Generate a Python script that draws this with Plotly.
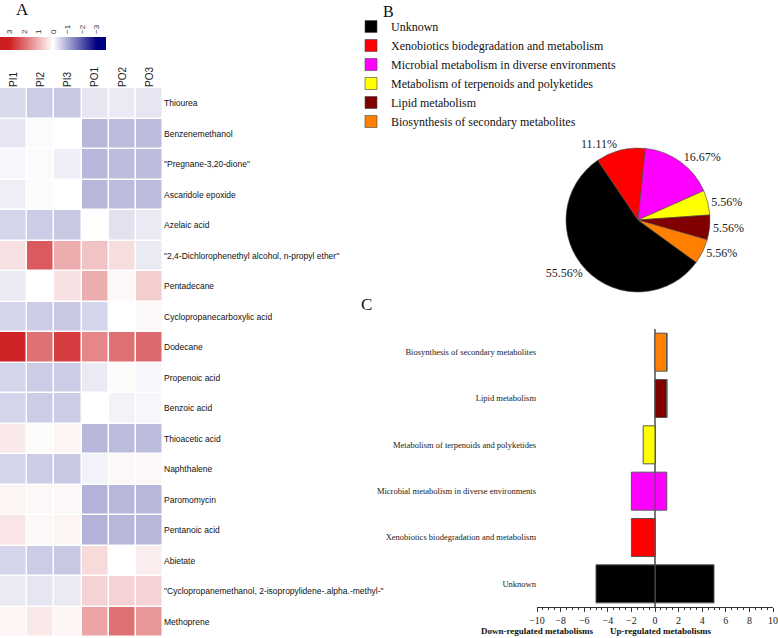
import plotly.graph_objects as go

W, H = 778, 638

# ---- panel A: heatmap data ----
samples = ["PI1", "PI2", "PI3", "PO1", "PO2", "PO3"]
compounds = [
    "Thiourea",
    "Benzenemethanol",
    '"Pregnane-3,20-dione"',
    "Ascaridole epoxide",
    "Azelaic acid",
    '"2,4-Dichlorophenethyl alcohol, n-propyl ether"',
    "Pentadecane",
    "Cyclopropanecarboxylic acid",
    "Dodecane",
    "Propenoic acid",
    "Benzoic acid",
    "Thioacetic acid",
    "Naphthalene",
    "Paromomycin",
    "Pentanoic acid",
    "Abietate",
    '"Cyclopropanemethanol, 2-isopropylidene-.alpha.-methyl-"',
    "Methoprene",
]
zscores = [
    [-0.45, -0.6, -0.65, -0.3, -0.25, -0.3],
    [-0.3, -0.05, 0.0, -0.85, -0.8, -0.8],
    [-0.1, -0.05, -0.2, -0.85, -0.8, -0.8],
    [-0.2, -0.05, 0.0, -0.85, -0.8, -0.8],
    [-0.5, -0.6, -0.65, 0.0, -0.35, -0.25],
    [0.4, 2.2, 1.1, 0.8, 0.45, -0.25],
    [-0.25, 0.0, 0.4, 1.1, 0.1, 0.65],
    [-0.5, -0.6, -0.65, -0.5, 0.0, 0.1],
    [2.95, 1.9, 2.6, 1.6, 1.9, 2.0],
    [-0.5, -0.6, -0.6, -0.25, 0.05, -0.1],
    [-0.5, -0.6, -0.6, 0.0, -0.15, -0.1],
    [0.3, 0.05, 0.15, -0.85, -0.8, -0.8],
    [-0.5, -0.6, -0.65, -0.15, 0.1, 0.1],
    [0.15, 0.1, 0.1, -0.9, -0.85, -0.85],
    [0.35, 0.1, 0.15, -0.9, -0.85, -0.85],
    [-0.5, -0.6, -0.65, 0.5, 0.0, 0.25],
    [-0.25, -0.3, -0.25, 0.6, 0.6, 0.6],
    [0.15, 0.3, 0.15, 1.2, 1.9, 1.4],
]
cbar_ticks = [3, 2, 1, 0, -1, -2, -3]
cbar_limit = 3.65

# ---- panel B: pie ----
pathways = [
    "Unknown",
    "Xenobiotics biodegradation and metabolism",
    "Microbial metabolism in diverse environments",
    "Metabolism of terpenoids and polyketides",
    "Lipid metabolism",
    "Biosynthesis of secondary metabolites",
]
pathway_counts = [10, 2, 3, 1, 1, 1]
pathway_colors = ["#000000", "#FF0000", "#FF00FF", "#FFFF00", "#800000", "#FF8000"]

# ---- panel C: up / down regulated ----
up_counts = [5, 0, 1, 0, 1, 1]
down_counts = [-5, -2, -2, -1, 0, 0]


def px_x(a, b):
    return [a / W, b / W]


def px_y(top, bottom):
    return [1 - bottom / H, 1 - top / H]


serif = "Liberation Serif, Times New Roman, serif"
sans = "Liberation Sans, Arial, sans-serif"

# colour ramp: red at +3, white at 0, navy at -3 (flat beyond +-3)
edge = (cbar_limit - 3) / (2 * cbar_limit)
ramp = [[0, "#CE1E22"], [edge, "#CE1E22"], [0.5, "#FFFFFF"],
        [1 - edge, "#000080"], [1, "#000080"]]

fig = go.Figure()

# heatmap, z negated so the horizontal colorbar runs 3 -> -3 left to right
fig.add_trace(go.Heatmap(
    z=[[-v for v in row] for row in zscores],
    x=samples,
    y=compounds,
    zmin=-cbar_limit, zmax=cbar_limit,
    colorscale=ramp,
    xgap=1.5, ygap=1.5,
    xaxis="x", yaxis="y",
    showscale=True,
    colorbar=dict(
        orientation="h",
        x=0, xanchor="left", y=1 - 50 / H, yanchor="bottom",
        len=106 / W, lenmode="fraction",
        thickness=13, outlinewidth=0, xpad=0, ypad=0,
        showticklabels=False, ticks="",
    ),
))

# invisible points that carry the colorbar's tick labels on their own axis
fig.add_trace(go.Scatter(
    x=cbar_ticks, y=[0.5] * len(cbar_ticks), mode="markers",
    marker=dict(size=1, opacity=0), hoverinfo="skip", showlegend=False,
    xaxis="x3", yaxis="y3",
))

# pie
fig.add_trace(go.Pie(
    labels=pathways,
    values=pathway_counts,
    marker=dict(colors=pathway_colors, line=dict(color="#444", width=0.6)),
    sort=False,
    direction="clockwise",
    rotation=126,
    texttemplate="%{percent:.2%}",
    textposition="outside",
    textfont=dict(family=serif, size=12, color="#222"),
    domain=dict(x=px_x(566, 710), y=px_y(148, 292)),
    showlegend=True,
))

# bars
fig.add_trace(go.Bar(
    y=pathways, x=up_counts, orientation="h",
    marker=dict(color=pathway_colors, line=dict(color="#555", width=1)),
    width=0.82, xaxis="x2", yaxis="y2", showlegend=False,
))
fig.add_trace(go.Bar(
    y=pathways, x=down_counts, orientation="h",
    marker=dict(color=pathway_colors, line=dict(color="#555", width=1)),
    width=0.82, xaxis="x2", yaxis="y2", showlegend=False,
))

fig.update_layout(
    width=W, height=H,
    margin=dict(l=0, r=0, t=0, b=0, autoexpand=False),
    paper_bgcolor="white", plot_bgcolor="rgba(0,0,0,0)",
    barmode="relative",
    xaxis=dict(
        domain=px_x(0, 163), side="top", anchor="y", automargin=False,
        tickangle=-90, ticks="", showline=False, showgrid=False,
        tickfont=dict(family=sans, size=10, color="#222"),
    ),
    yaxis=dict(
        domain=px_y(88, 637), side="right", anchor="x", automargin=False,
        autorange="reversed", ticks="", showgrid=False,
        tickfont=dict(family=sans, size=8.5, color="#111"),
    ),
    xaxis2=dict(
        domain=px_x(537, 773), anchor="y2", range=[-10, 10], automargin=False,
        dtick=2, ticks="outside", ticklen=4, tickcolor="#333",
        showline=True, linecolor="#333", linewidth=1, layer="above traces",
        showgrid=False, zeroline=True, zerolinecolor="#777", zerolinewidth=1.5,
        minor=dict(dtick=0.5, ticks="outside", ticklen=2, tickcolor="#333"),
        tickfont=dict(family=serif, size=10, color="#222"),
    ),
    yaxis2=dict(
        domain=px_y(329, 607), anchor="x2", automargin=False,
        categoryorder="array", categoryarray=pathways,
        showline=False, showgrid=False, ticks="",
        tickfont=dict(family=serif, size=8.5, color="#222"),
    ),
    # scale axis for the colorbar labels (drawn above the bar)
    xaxis3=dict(
        domain=px_x(0, 106), anchor="y3", side="top", automargin=False,
        range=[cbar_limit, -cbar_limit], tickvals=cbar_ticks,
        tickangle=-90, ticks="", ticklen=0, ticklabelstandoff=2,
        showline=False, showgrid=False, zeroline=False, fixedrange=True,
        tickfont=dict(family=sans, size=8, color="#333"),
    ),
    yaxis3=dict(domain=px_y(37, 50), anchor="x3", range=[0, 1],
                showticklabels=False, showgrid=False, zeroline=False,
                showline=False, ticks="", fixedrange=True),
    legend=dict(
        x=351 / W, y=1 - 12 / H, xanchor="left", yanchor="top",
        font=dict(family=serif, size=12, color="#111"),
        tracegroupgap=0, itemwidth=30, bgcolor="rgba(0,0,0,0)",
    ),
    annotations=[
        dict(text="A", x=14 / W, y=1 - 10 / H, xref="paper", yref="paper",
             yanchor="middle", showarrow=False,
             font=dict(family=serif, size=17, color="#111")),
        dict(text="B", x=388 / W, y=1 - 11 / H, xref="paper", yref="paper",
             yanchor="middle", showarrow=False,
             font=dict(family=serif, size=16, color="#111")),
        dict(text="C", x=366 / W, y=1 - 304 / H, xref="paper", yref="paper",
             yanchor="middle", showarrow=False,
             font=dict(family=serif, size=17, color="#111")),
        dict(text="<b>Down-regulated metabolisms</b>", x=596 / W, y=1 - 624 / H,
             xref="paper", yref="paper", yanchor="top", showarrow=False,
             font=dict(family=serif, size=9, color="#111")),
        dict(text="<b>Up-regulated metabolisms</b>", x=714 / W, y=1 - 624 / H,
             xref="paper", yref="paper", yanchor="top", showarrow=False,
             font=dict(family=serif, size=9, color="#111")),
    ],
)

fig.write_html("out.html", config={"displayModeBar": False},
               post_script="document.body.style.margin='0';")
